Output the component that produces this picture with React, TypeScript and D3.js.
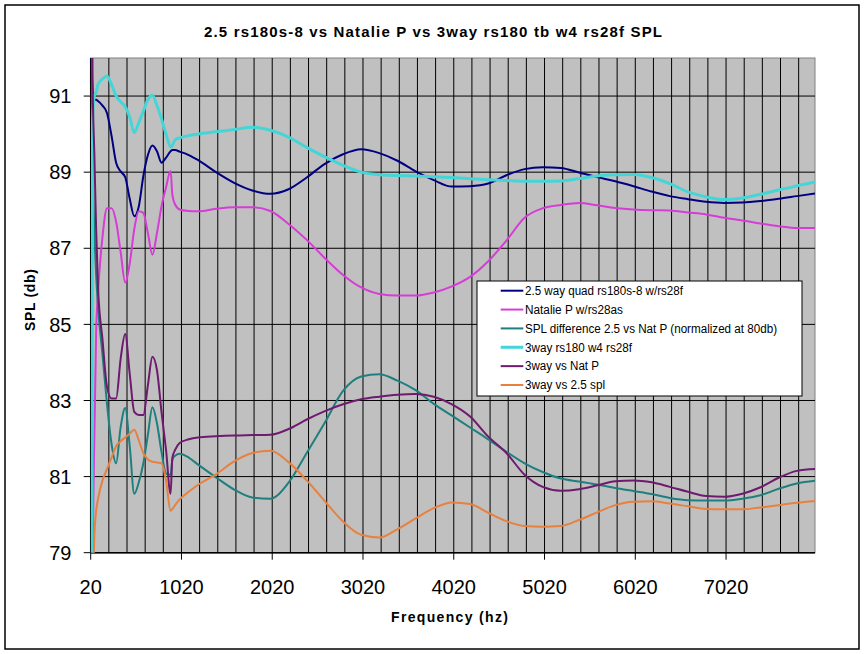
import React from "react";
import * as d3 from "d3";

const freqs = [20, 40, 60, 80, 100, 150, 200, 250, 300, 350, 400, 450, 500, 550, 600, 650, 700, 750, 800, 850, 900, 920, 950, 1000, 1100, 1200, 1400, 1600, 1800, 2000, 2200, 2400, 2600, 2800, 3000, 3200, 3400, 3600, 3800, 4000, 4200, 4400, 4600, 4800, 5000, 5200, 5400, 5600, 5800, 6000, 6200, 6400, 6600, 6800, 7000, 7200, 7400, 7600, 7800, 8000];

const quad25 = [92.5, 91.2, 90.9, 90.9, 90.87, 90.75, 90.55, 89.95, 89.25, 89.02, 88.87, 88.3, 87.84, 88.1, 88.9, 89.45, 89.7, 89.55, 89.25, 89.38, 89.55, 89.58, 89.58, 89.54, 89.45, 89.32, 89.0, 88.72, 88.52, 88.43, 88.55, 88.86, 89.22, 89.47, 89.6, 89.5, 89.3, 89.02, 88.79, 88.62, 88.63, 88.7, 88.92, 89.08, 89.13, 89.11, 88.99, 88.87, 88.76, 88.63, 88.49, 88.37, 88.29, 88.22, 88.19, 88.2, 88.24, 88.3, 88.37, 88.44];

const natalie = [65, 78, 82, 84.8, 85.8, 87.3, 88.05, 88.05, 87.7, 86.9, 86.1, 86.6, 87.5, 87.97, 87.93, 87.4, 86.83, 87.4, 88.1, 88.6, 89.03, 88.4, 88.15, 88.02, 87.98, 87.97, 88.04, 88.08, 88.08, 87.98, 87.64, 87.22, 86.74, 86.3, 85.97, 85.8, 85.76, 85.76, 85.84, 86.0, 86.25, 86.66, 87.2, 87.8, 88.05, 88.14, 88.19, 88.13, 88.06, 88.02, 88.0, 87.99, 87.94, 87.89, 87.8, 87.73, 87.65, 87.58, 87.53, 87.53];

const splDiff = [100, 89.5, 87.5, 86.3, 85.5, 84.2, 82.9, 81.85, 81.35, 82.3, 82.8, 81.8, 80.55, 80.85, 81.35, 82.1, 82.82, 82.4, 81.65, 81.08, 81.05, 81.45, 81.55, 81.6, 81.5, 81.32, 80.98, 80.66, 80.45, 80.42, 80.84, 81.62, 82.42, 83.25, 83.63, 83.69, 83.52, 83.27, 82.91, 82.6, 82.29, 81.98, 81.65, 81.35, 81.12, 80.95, 80.87, 80.79, 80.7, 80.62, 80.54, 80.44, 80.38, 80.37, 80.37, 80.42, 80.51, 80.68, 80.82, 80.89];

const threeWay = [60, 90.3, 91.0, 91.1, 91.3, 91.45, 91.53, 91.3, 91.0, 90.85, 90.72, 90.45, 90.04, 90.3, 90.6, 90.9, 91.02, 90.75, 90.4, 90.0, 89.66, 89.7, 89.85, 89.9, 89.96, 90.0, 90.06, 90.12, 90.18, 90.1, 89.92, 89.65, 89.4, 89.18, 89.0, 88.93, 88.91, 88.9, 88.88, 88.86, 88.83, 88.8, 88.78, 88.76, 88.76, 88.77, 88.83, 88.9, 88.93, 88.94, 88.86, 88.7, 88.48, 88.35, 88.28, 88.32, 88.42, 88.53, 88.64, 88.74];

const threeVsNat = [100, 91.5, 89.5, 87.5, 86.0, 84.6, 83.35, 83.05, 83.05, 84.1, 84.75, 83.7, 82.7, 82.62, 82.62, 83.4, 84.15, 83.8, 82.7, 81.7, 80.55, 81.5, 81.7, 81.88, 81.98, 82.03, 82.06, 82.08, 82.09, 82.1, 82.25, 82.5, 82.72, 82.9, 83.03, 83.1, 83.15, 83.17, 83.1, 82.9, 82.58, 82.05, 81.62, 81.05, 80.73, 80.63, 80.67, 80.77, 80.88, 80.9, 80.85, 80.73, 80.6, 80.49, 80.47, 80.55, 80.72, 80.97, 81.15, 81.2];

const threeVs25 = [60, 76, 79.4, 80.1, 80.4, 80.9, 81.2, 81.5, 81.8, 81.93, 82.03, 82.13, 82.23, 81.95, 81.62, 81.45, 81.39, 81.37, 81.35, 80.9, 80.1, 80.15, 80.25, 80.4, 80.6, 80.78, 81.06, 81.4, 81.62, 81.68, 81.38, 80.9, 80.35, 79.82, 79.47, 79.4, 79.62, 79.9, 80.17, 80.32, 80.28, 80.05, 79.83, 79.7, 79.68, 79.7, 79.86, 80.06, 80.25, 80.34, 80.35, 80.29, 80.22, 80.15, 80.14, 80.14, 80.19, 80.25, 80.31, 80.36];

const seriesNames = [
  "2.5 way quad rs180s-8 w/rs28f",
  "Natalie P w/rs28as",
  "SPL difference 2.5 vs Nat P (normalized at 80db)",
  "3way rs180 w4 rs28f",
  "3way vs Nat P",
  "3way vs 2.5 spl",
];
const legendTextWidths = [158, 98, 252, 107, 74, 80];
const seriesValues = [quad25, natalie, splDiff, threeWay, threeVsNat, threeVs25];
const seriesColors = ["#000080", "#D63CD6", "#1F7F7F", "#44D6D6", "#6E1A6E", "#E8803E"];
const seriesWidths = [2, 2, 2, 3, 2, 2];

const yTicks = [79, 81, 83, 85, 87, 89, 91];
const xTickLabels = [20, 1020, 2020, 3020, 4020, 5020, 6020, 7020];
const xGrid = d3.range(20, 8000, 200);

const title = "2.5 rs180s-8 vs Natalie P vs 3way rs180 tb w4 rs28f SPL";
const xTitle = "Frequency (hz)";
const yTitle = "SPL (db)";

const W = 865;
const H = 654;
const L = 90.7;
const R = 815;
const T = 58;
const B = 552.7;

export default function App() {
  const x = d3.scaleLinear().domain([20, 8000]).range([L, R]);
  const y = d3.scaleLinear().domain([79, 92]).range([B, T]);
  const font = "Arial, 'Liberation Sans', sans-serif";

  const lineGen = (vals: number[]) =>
    d3
      .line<number>()
      .x((_, i) => x(freqs[i]))
      .y((v) => y(v))
      .curve(d3.curveMonotoneX)(vals) || "";

  const legX = 477;
  const legY = 281;
  const legW = 325;
  const legH = 115;

  return (
    <svg
      width={W}
      height={H}
      style={{ position: "absolute", left: 0, top: 0, background: "#fff" }}
      fontFamily={font}
    >
      <rect x={0} y={0} width={W} height={H} fill="#fff" />
      <rect x={5} y={5} width={854} height={644} fill="#fff" stroke="#000" strokeWidth={1.5} />
      <defs>
        <clipPath id="plotclip">
          <rect x={L} y={T} width={R - L} height={B - T} />
        </clipPath>
      </defs>
      <rect x={L} y={T} width={R - L} height={B - T} fill="#C0C0C0" stroke="#808080" strokeWidth={1} />
      {xGrid.map((f) => (
        <line key={"vg" + f} x1={x(f)} x2={x(f)} y1={T} y2={B} stroke="#000" strokeWidth={1} />
      ))}
      {yTicks.map((t) => (
        <line key={"hg" + t} x1={L} x2={R} y1={y(t)} y2={y(t)} stroke="#000" strokeWidth={1} />
      ))}
      <line x1={L} x2={L} y1={T} y2={B} stroke="#000" strokeWidth={1.5} />
      <line x1={L} x2={R} y1={B} y2={B} stroke="#000" strokeWidth={1.5} />
      {yTicks.map((t) => (
        <g key={"yt" + t}>
          <line x1={L - 7} x2={L} y1={y(t)} y2={y(t)} stroke="#000" strokeWidth={1} />
          <text x={71.5} y={y(t)} dy="0.36em" textAnchor="end" fontSize={20} fill="#000">
            {t}
          </text>
        </g>
      ))}
      {xTickLabels.map((t) => (
        <g key={"xt" + t}>
          <line x1={x(t)} x2={x(t)} y1={B} y2={B + 7} stroke="#000" strokeWidth={1} />
          <text x={x(t)} y={594} textAnchor="middle" fontSize={20} fill="#000">
            {t}
          </text>
        </g>
      ))}
      <g clipPath="url(#plotclip)">
        {seriesValues.map((vals, i) => (
          <path
            key={"s" + i}
            d={lineGen(vals)}
            fill="none"
            stroke={seriesColors[i]}
            strokeWidth={seriesWidths[i]}
            strokeLinejoin="round"
          />
        ))}
      </g>
      <rect x={legX} y={legY} width={legW} height={legH} fill="#fff" stroke="#000" strokeWidth={1} />
      {seriesNames.map((n, i) => {
        const ry = 290.7 + i * 18.86;
        return (
          <g key={"lg" + i}>
            <line x1={500.7} x2={523.3} y1={ry} y2={ry} stroke={seriesColors[i]} strokeWidth={seriesWidths[i]} />
            <text
              x={525}
              y={ry}
              dy="0.36em"
              fontSize={12}
              fill="#000"
              textLength={legendTextWidths[i]}
              lengthAdjust="spacingAndGlyphs"
            >
              {n}
            </text>
          </g>
        );
      })}
      <text x={433} y={37} textAnchor="middle" fontSize={15} fontWeight="bold" textLength={458} lengthAdjust="spacing">
        {title}
      </text>
      <text x={449.5} y={622} textAnchor="middle" fontSize={14} fontWeight="bold" textLength={117} lengthAdjust="spacing">
        {xTitle}
      </text>
      <text
        transform={`translate(35,300) rotate(-90)`}
        textAnchor="middle"
        fontSize={14}
        fontWeight="bold"
        textLength={62}
        lengthAdjust="spacing"
      >
        {yTitle}
      </text>
    </svg>
  );
}
